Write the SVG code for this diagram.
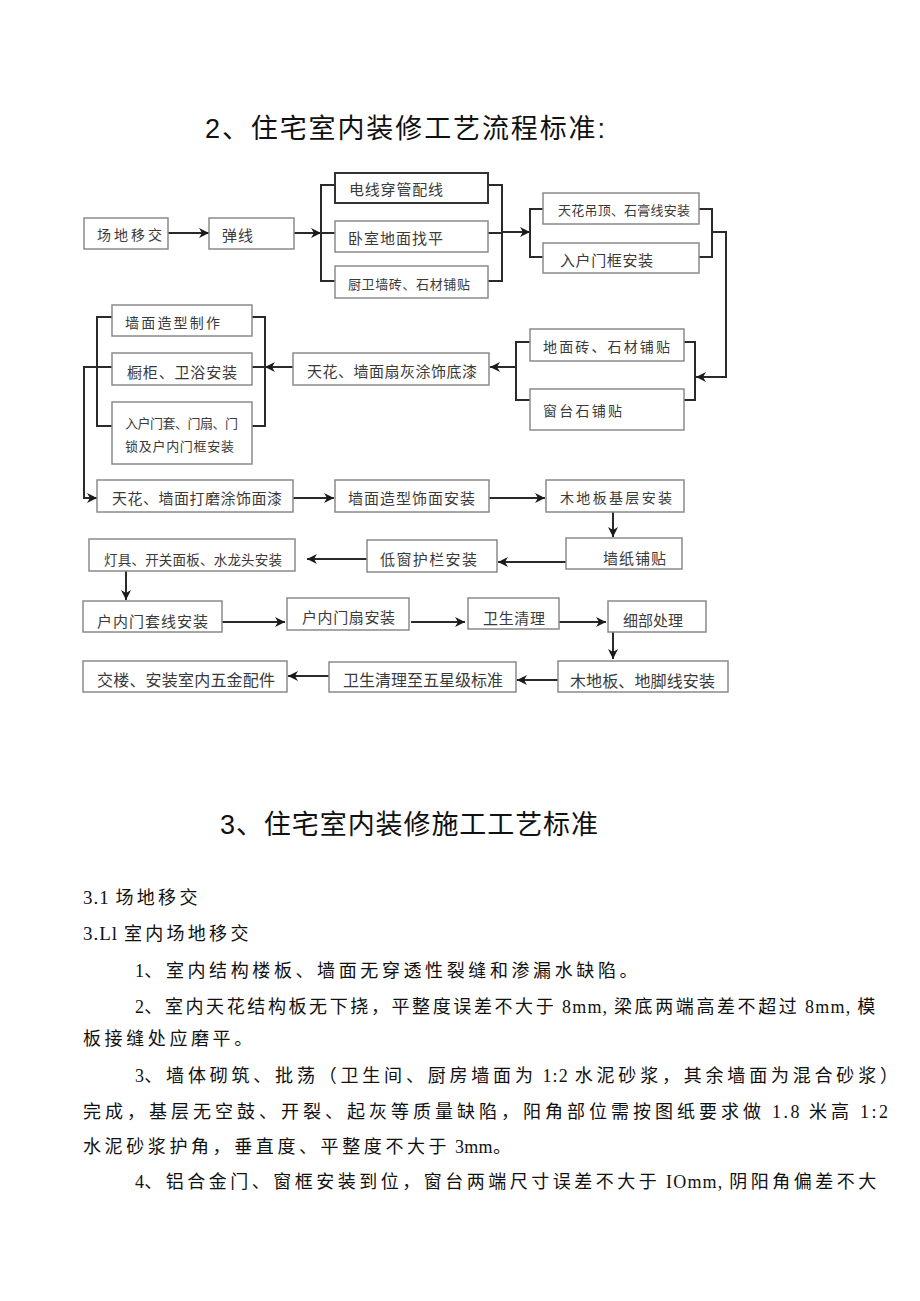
<svg xmlns="http://www.w3.org/2000/svg" width="920" height="1301" viewBox="0 0 920 1301">
<style>
.bg{fill:#ffffff}
.box{fill:#ffffff;stroke:#8a8a8a;stroke-width:1.5}
.boxd{fill:#ffffff;stroke:#333333;stroke-width:2}
.t{font-family:"Noto Sans CJK SC","Noto Sans",sans-serif;fill:#3a3a3a;dominant-baseline:central}
.ln{fill:none;stroke:#2a2a2a;stroke-width:2}
.ttl{font-family:"Liberation Sans","Noto Sans CJK SC",sans-serif;fill:#111;font-size:27px}
.body{font-family:"Liberation Serif","Noto Sans CJK SC",serif;fill:#111;font-size:18px}
.la{font-size:18px;letter-spacing:0.3px}
.lh{font-size:19px;letter-spacing:1px}
</style>
<defs>
<marker id="ah" markerUnits="userSpaceOnUse" markerWidth="12" markerHeight="10" refX="10" refY="5" orient="auto">
<path d="M0,0 L10,5 L0,10 L3,5 Z" fill="#1a1a1a"/>
</marker>
</defs>
<rect class="bg" x="0" y="0" width="920" height="1301"/>

<text class="ttl" x="205" y="138" textLength="400" lengthAdjust="spacing">2、住宅室内装修工艺流程标准:</text>

<g id="connectors">
<path class="ln" d="M168,233 H209" marker-end="url(#ah)"/>
<path class="ln" d="M294,233 H321" marker-end="url(#ah)"/>
<path class="ln" d="M335,185 H321 V281 H335 M321,233 H335"/>
<path class="ln" d="M488,185 H502 V281 H488 M488,233 H502"/>
<path class="ln" d="M502,232 H530" marker-end="url(#ah)"/>
<path class="ln" d="M543,209 H530 V257 H543"/>
<path class="ln" d="M699,209 H712 V257 H699"/>
<path class="ln" d="M712,232 H726 V377 H696" marker-end="url(#ah)"/>
<path class="ln" d="M684,342 H695 V400 H684"/>
<path class="ln" d="M530,342 H516 V400 H530"/>
<path class="ln" d="M516,367 H490" marker-end="url(#ah)"/>
<path class="ln" d="M293,367 H265" marker-end="url(#ah)"/>
<path class="ln" d="M252,317 H265 V426 H252 M252,367 H265"/>
<path class="ln" d="M112,317 H97 V426 H112"/>
<path class="ln" d="M112,367 H84 V498 H97" marker-end="url(#ah)"/>
<path class="ln" d="M293,498 H334" marker-end="url(#ah)"/>
<path class="ln" d="M489,498 H545" marker-end="url(#ah)"/>
<path class="ln" d="M613,512 V537" marker-end="url(#ah)"/>
<path class="ln" d="M566,562 H498" marker-end="url(#ah)"/>
<path class="ln" d="M367,559 H307" marker-end="url(#ah)"/>
<path class="ln" d="M126,571 V600" marker-end="url(#ah)"/>
<path class="ln" d="M222,622 H285" marker-end="url(#ah)"/>
<path class="ln" d="M411,622 H465" marker-end="url(#ah)"/>
<path class="ln" d="M559,622 H606" marker-end="url(#ah)"/>
<path class="ln" d="M613,632 V659" marker-end="url(#ah)"/>
<path class="ln" d="M558,680 H517" marker-end="url(#ah)"/>
<path class="ln" d="M329,676 H288" marker-end="url(#ah)"/>
</g>

<g id="n1"><rect class="box" x="84" y="218" width="84" height="31"/><text class="t" x="97" y="234" font-size="14" textLength="65" lengthAdjust="spacing">场地移交</text></g>
<g id="n2"><rect class="box" x="209" y="218" width="85" height="31"/><text class="t" x="222" y="234" font-size="15" textLength="31" lengthAdjust="spacing">弹线</text></g>
<g id="n3"><rect class="boxd" x="335" y="173" width="153" height="30"/><text class="t" x="349" y="188" font-size="15" textLength="94" lengthAdjust="spacing">电线穿管配线</text></g>
<g id="n4"><rect class="box" x="335" y="221" width="153" height="31"/><text class="t" x="348" y="237" font-size="15" textLength="95" lengthAdjust="spacing">卧室地面找平</text></g>
<g id="n5"><rect class="box" x="335" y="266" width="153" height="32"/><text class="t" x="348" y="283" font-size="13" textLength="122" lengthAdjust="spacing">厨卫墙砖、石材铺贴</text></g>
<g id="n6"><rect class="box" x="543" y="193" width="156" height="31"/><text class="t" x="558" y="209" font-size="13" textLength="132" lengthAdjust="spacing">天花吊顶、石膏线安装</text></g>
<g id="n7"><rect class="box" x="543" y="243" width="156" height="30"/><text class="t" x="560" y="259" font-size="15" textLength="93" lengthAdjust="spacing">入户门框安装</text></g>
<g id="n8"><rect class="box" x="530" y="329" width="154" height="32"/><text class="t" x="543" y="346" font-size="14" textLength="127" lengthAdjust="spacing">地面砖、石材铺贴</text></g>
<g id="n9"><rect class="box" x="530" y="389" width="154" height="41"/><text class="t" x="543" y="410" font-size="14" textLength="79" lengthAdjust="spacing">窗台石铺贴</text></g>
<g id="n10"><rect class="box" x="293" y="353" width="196" height="32"/><text class="t" x="307" y="370" font-size="15" textLength="170" lengthAdjust="spacing">天花、墙面扇灰涂饰底漆</text></g>
<g id="n11"><rect class="box" x="112" y="305" width="140" height="31"/><text class="t" x="125" y="322" font-size="14" textLength="95" lengthAdjust="spacing">墙面造型制作</text></g>
<g id="n12"><rect class="box" x="112" y="353" width="140" height="32"/><text class="t" x="127" y="371" font-size="15" textLength="110" lengthAdjust="spacing">橱柜、卫浴安装</text></g>
<g id="n13"><rect class="box" x="112" y="402" width="140" height="62"/><text class="t" x="125" y="422" font-size="13" textLength="113" lengthAdjust="spacing">入户门套、门扇、门</text><text class="t" x="125" y="445" font-size="13" textLength="109" lengthAdjust="spacing">锁及户内门框安装</text></g>
<g id="n14"><rect class="box" x="97" y="480" width="196" height="32"/><text class="t" x="112" y="497" font-size="15" textLength="170" lengthAdjust="spacing">天花、墙面打磨涂饰面漆</text></g>
<g id="n15"><rect class="box" x="335" y="480" width="154" height="32"/><text class="t" x="348" y="497" font-size="15" textLength="127" lengthAdjust="spacing">墙面造型饰面安装</text></g>
<g id="n16"><rect class="box" x="546" y="480" width="138" height="32"/><text class="t" x="560" y="497" font-size="14" textLength="112" lengthAdjust="spacing">木地板基层安装</text></g>
<g id="n17"><rect class="box" x="566" y="538" width="116" height="31"/><text class="t" x="603" y="557" font-size="15" textLength="63" lengthAdjust="spacing">墙纸铺贴</text></g>
<g id="n18"><rect class="box" x="367" y="540" width="130" height="32"/><text class="t" x="380" y="558" font-size="15" textLength="97" lengthAdjust="spacing">低窗护栏安装</text></g>
<g id="n19"><rect class="box" x="89" y="539" width="206" height="32"/><text class="t" x="104" y="559" font-size="13.5" textLength="178" lengthAdjust="spacing">灯具、开关面板、水龙头安装</text></g>
<g id="n20"><rect class="box" x="83" y="601" width="139" height="31"/><text class="t" x="97" y="620" font-size="15" textLength="111" lengthAdjust="spacing">户内门套线安装</text></g>
<g id="n21"><rect class="box" x="287" y="598" width="122" height="32"/><text class="t" x="302" y="616" font-size="15" textLength="93" lengthAdjust="spacing">户内门扇安装</text></g>
<g id="n22"><rect class="box" x="468" y="598" width="91" height="31"/><text class="t" x="483" y="617" font-size="15" textLength="62" lengthAdjust="spacing">卫生清理</text></g>
<g id="n23"><rect class="box" x="608" y="601" width="98" height="31"/><text class="t" x="623" y="619" font-size="15" textLength="60" lengthAdjust="spacing">细部处理</text></g>
<g id="n24"><rect class="box" x="558" y="661" width="170" height="31"/><text class="t" x="570" y="680" font-size="16" textLength="145" lengthAdjust="spacing">木地板、地脚线安装</text></g>
<g id="n25"><rect class="box" x="329" y="662" width="187" height="30"/><text class="t" x="343" y="679" font-size="16" textLength="160" lengthAdjust="spacing">卫生清理至五星级标准</text></g>
<g id="n26"><rect class="box" x="83" y="661" width="204" height="31"/><text class="t" x="97" y="679" font-size="16" textLength="178" lengthAdjust="spacing">交楼、安装室内五金配件</text></g>

<text class="ttl" x="220" y="834" textLength="378" lengthAdjust="spacing">3、住宅室内装修施工工艺标准</text>

<text class="body" x="83" y="904" style="letter-spacing:3.3px"><tspan class="lh">3.1 </tspan>场地移交</text>
<text class="body" x="83" y="940" style="letter-spacing:3.3px"><tspan class="lh">3.Ll </tspan>室内场地移交</text>
<text class="body" x="135" y="977" style="letter-spacing:3.6px"><tspan class="la">1</tspan>、室内结构楼板、墙面无穿透性裂缝和渗漏水缺陷。</text>
<text class="body" x="135" y="1013" style="letter-spacing:2.6px"><tspan class="la">2</tspan>、室内天花结构板无下挠，平整度误差不大于<tspan class="la" style="letter-spacing:1.2px"> 8mm, </tspan>梁底两端高差不超过<tspan class="la" style="letter-spacing:1.2px"> 8mm, </tspan>模</text>
<text class="body" x="83" y="1045" style="letter-spacing:3.6px">板接缝处应磨平。</text>
<text class="body" x="135" y="1082" style="letter-spacing:3.8px"><tspan class="la">3</tspan>、墙体砌筑、批荡（卫生间、厨房墙面为<tspan class="la" style="letter-spacing:1.2px"> 1:2 </tspan>水泥砂浆，其余墙面为混合砂浆）</text>
<text class="body" x="83" y="1118" style="letter-spacing:4.0px">完成，基层无空鼓、开裂、起灰等质量缺陷，阳角部位需按图纸要求做<tspan class="la" style="letter-spacing:2.5px"> 1.8 </tspan>米高<tspan class="la" style="letter-spacing:2.5px"> 1:2</tspan></text>
<text class="body" x="83" y="1153" style="letter-spacing:3.6px">水泥砂浆护角，垂直度、平整度不大于<tspan class="la"> 3mm</tspan>。</text>
<text class="body" x="135" y="1188" style="letter-spacing:3.5px"><tspan class="la">4</tspan>、铝合金门、窗框安装到位，窗台两端尺寸误差不大于<tspan class="la" style="letter-spacing:1.2px"> IOmm, </tspan>阴阳角偏差不大</text>
</svg>
